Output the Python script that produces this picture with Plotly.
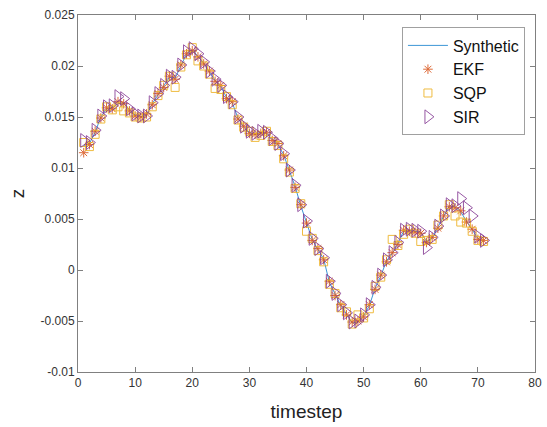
import plotly.graph_objects as go

timestep = list(range(1, 72))

synthetic = [0.0122, 0.0124, 0.0135, 0.0150, 0.0158, 0.0159, 0.0163, 0.0164, 0.0157, 0.0152,
             0.0150, 0.0152, 0.0163, 0.0172, 0.0180, 0.0189, 0.0188, 0.0200, 0.0212, 0.0216,
             0.0210, 0.0203, 0.0194, 0.0186, 0.0180, 0.0169, 0.0164, 0.0149, 0.0140, 0.0135,
             0.0133, 0.0135, 0.0134, 0.0128, 0.0123, 0.0113, 0.0097, 0.0082, 0.0063, 0.0047,
             0.0030, 0.0020, 0.0011, -0.0012, -0.0024, -0.0035, -0.0043, -0.0052, -0.0051, -0.0045,
             -0.0035, -0.0018, -0.0006, 0.0009, 0.0016, 0.0026, 0.0038, 0.0039, 0.0038, 0.0037,
             0.0028, 0.0031, 0.0042, 0.0052, 0.0063, 0.0062, 0.0057, 0.0048, 0.0039, 0.0031,
             0.0028]

ekf = [0.0115, 0.0123, 0.0136, 0.0149, 0.0159, 0.0158, 0.0165, 0.0163, 0.0156, 0.0151,
       0.0150, 0.0153, 0.0162, 0.0173, 0.0179, 0.0190, 0.0187, 0.0201, 0.0212, 0.0215,
       0.0209, 0.0202, 0.0195, 0.0185, 0.0181, 0.0168, 0.0165, 0.0148, 0.0141, 0.0134,
       0.0133, 0.0134, 0.0135, 0.0127, 0.0124, 0.0112, 0.0098, 0.0081, 0.0064, 0.0046,
       0.0029, 0.0021, 0.0010, -0.0011, -0.0025, -0.0034, -0.0044, -0.0051, -0.0050, -0.0046,
       -0.0034, -0.0019, -0.0005, 0.0008, 0.0017, 0.0025, 0.0039, 0.0038, 0.0037, 0.0036,
       0.0027, 0.0032, 0.0041, 0.0053, 0.0062, 0.0061, 0.0058, 0.0047, 0.0040, 0.0030,
       0.0029]

sqp = [0.0125, 0.0121, 0.0133, 0.0148, 0.0160, 0.0157, 0.0160, 0.0156, 0.0154, 0.0150,
       0.0149, 0.0150, 0.0160, 0.0171, 0.0181, 0.0190, 0.0179, 0.0199, 0.0211, 0.0218,
       0.0205, 0.0200, 0.0192, 0.0178, 0.0177, 0.0170, 0.0162, 0.0147, 0.0140, 0.0136,
       0.0130, 0.0132, 0.0136, 0.0126, 0.0122, 0.0109, 0.0096, 0.0080, 0.0065, 0.0038,
       0.0031, 0.0019, 0.0008, -0.0014, -0.0023, -0.0037, -0.0041, -0.0053, -0.0044, -0.0047,
       -0.0038, -0.0016, -0.0007, 0.0010, 0.0030, 0.0024, 0.0035, 0.0040, 0.0036, 0.0028,
       0.0029, 0.0030, 0.0044, 0.0053, 0.0064, 0.0053, 0.0047, 0.0046, 0.0038, 0.0029,
       0.0028]

sir = [0.0127, 0.0125, 0.0137, 0.0151, 0.0160, 0.0161, 0.0170, 0.0168, 0.0158, 0.0153,
       0.0151, 0.0151, 0.0164, 0.0173, 0.0181, 0.0190, 0.0189, 0.0201, 0.0214, 0.0217,
       0.0212, 0.0204, 0.0195, 0.0187, 0.0181, 0.0170, 0.0165, 0.0150, 0.0141, 0.0136,
       0.0134, 0.0136, 0.0135, 0.0129, 0.0124, 0.0114, 0.0098, 0.0083, 0.0064, 0.0048,
       0.0031, 0.0021, 0.0012, -0.0011, -0.0023, -0.0034, -0.0042, -0.0051, -0.0050, -0.0044,
       -0.0034, -0.0017, -0.0005, 0.0010, 0.0017, 0.0027, 0.0039, 0.0040, 0.0039, 0.0038,
       0.0022, 0.0032, 0.0043, 0.0053, 0.0064, 0.0063, 0.0070, 0.0061, 0.0053, 0.0033,
       0.0029]

y_tickvals = [-0.01, -0.005, 0, 0.005, 0.01, 0.015, 0.02, 0.025]
y_ticktext = ["-0.01", "-0.005", "0", "0.005", "0.01", "0.015", "0.02", "0.025"]
x_tickvals = [0, 10, 20, 30, 40, 50, 60, 70, 80]

fig = go.Figure()
fig.add_trace(go.Scatter(x=timestep, y=synthetic, mode="lines", name="Synthetic",
                         line=dict(color="#3D96D6", width=1)))
fig.add_trace(go.Scatter(x=timestep, y=ekf, mode="markers", name="EKF",
                         marker=dict(symbol="asterisk-open", size=8, color="#D95319",
                                     line=dict(color="#D95319", width=1)), opacity=0.85))
fig.add_trace(go.Scatter(x=timestep, y=sqp, mode="markers", name="SQP",
                         marker=dict(symbol="square-open", size=8, color="#EDB120",
                                     line=dict(color="#EDB120", width=1)), opacity=0.85))
fig.add_trace(go.Scatter(x=timestep, y=sir, mode="markers", name="SIR",
                         marker=dict(symbol="triangle-right-open", size=12, color="#7E2F8E",
                                     line=dict(color="#7E2F8E", width=1)), opacity=0.8))

axis_common = dict(showline=True, linecolor="#808080", linewidth=1, mirror="ticks",
                   ticks="inside", ticklen=5, tickcolor="#808080", showgrid=False,
                   zeroline=False, automargin=False,
                   tickfont=dict(family="Liberation Sans, Arial", size=12, color="#333333"))

fig.update_layout(
    width=547, height=427,
    margin=dict(l=78, r=12, t=15, b=55, autoexpand=False),
    paper_bgcolor="white", plot_bgcolor="white",
    xaxis=dict(range=[0, 80], tickvals=x_tickvals,
               title=dict(text="timestep", font=dict(family="Liberation Sans, Arial", size=19,
                                                     color="#222222"), standoff=15),
               **axis_common),
    yaxis=dict(range=[-0.01, 0.025], tickvals=y_tickvals, ticktext=y_ticktext,
               title=dict(text="z", font=dict(family="Liberation Sans, Arial", size=19,
                                              color="#222222"), standoff=10),
               **axis_common),
    legend=dict(x=0.978, y=0.965, xanchor="right", yanchor="top",
                bordercolor="#A0A0A0", borderwidth=1, bgcolor="white",
                font=dict(family="Liberation Sans, Arial", size=16, color="#111111"),
                tracegroupgap=0, itemwidth=40),
    showlegend=True,
)

fig.write_html("out.html")
